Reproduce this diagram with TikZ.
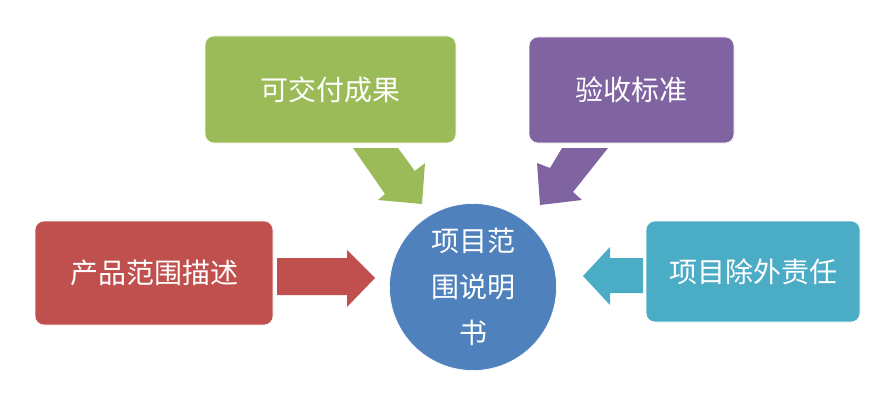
\documentclass[tikz,border=0pt]{standalone}
\usepackage{fontspec}
\newfontfamily\cjk{Noto Sans CJK SC}
\definecolor{cgreen}{HTML}{9BBB59}
\definecolor{cpurple}{HTML}{8064A2}
\definecolor{cred}{HTML}{C0504D}
\definecolor{ccyan}{HTML}{4BACC6}
\definecolor{cblue}{HTML}{4F81BD}
\tikzset{
  box/.style={rounded corners=9pt, inner sep=0pt, draw=white, line width=0.6pt, text=white,
    font=\cjk\fontsize{28}{34}\selectfont},
  blockarrow/.style={draw=none},
}
\begin{document}
\begin{tikzpicture}[x=1pt,y=-1pt]
\useasboundingbox (0,0) rectangle (883,404);
% boxes
\node[box, fill=cgreen, minimum width=251pt, minimum height=107pt] (deliv) at (330.5,89.5) {可交付成果};
\node[box, fill=cpurple, minimum width=205pt, minimum height=106pt] (accept) at (631.5,90) {验收标准};
\node[box, fill=cred, minimum width=238pt, minimum height=104pt] (prod) at (154,273) {产品范围描述};
\node[box, fill=ccyan, minimum width=214pt, minimum height=101pt] (excl) at (753,271.5) {项目除外责任};
% circle
\node[circle, fill=cblue, draw=white, line width=0.6pt, minimum size=167pt, inner sep=0pt, text=white,
  align=center, font=\cjk\fontsize{28}{46}\selectfont] (scope) at (473,287) {项目范\\围说明\\书};
% block arrows
\fill[blockarrow, cgreen] (353,148) -- (398,148) -- (414.8,171) -- (425,163) -- (422,204) -- (378,200) -- (385,194) -- cycle;
\fill[blockarrow, cpurple] (562,148) -- (608,148) -- (573,192) -- (582,200) -- (540,205) -- (537,163) -- (550,168) -- cycle;
\fill[blockarrow, cred] (277,258) -- (347,258) -- (347,250) -- (375,278) -- (347,307) -- (347,295) -- (277,295) -- cycle;
\fill[blockarrow, ccyan] (643,258) -- (610,258) -- (610,247) -- (583,276) -- (610,305) -- (610,293) -- (643,293) -- cycle;
\end{tikzpicture}
\end{document}
